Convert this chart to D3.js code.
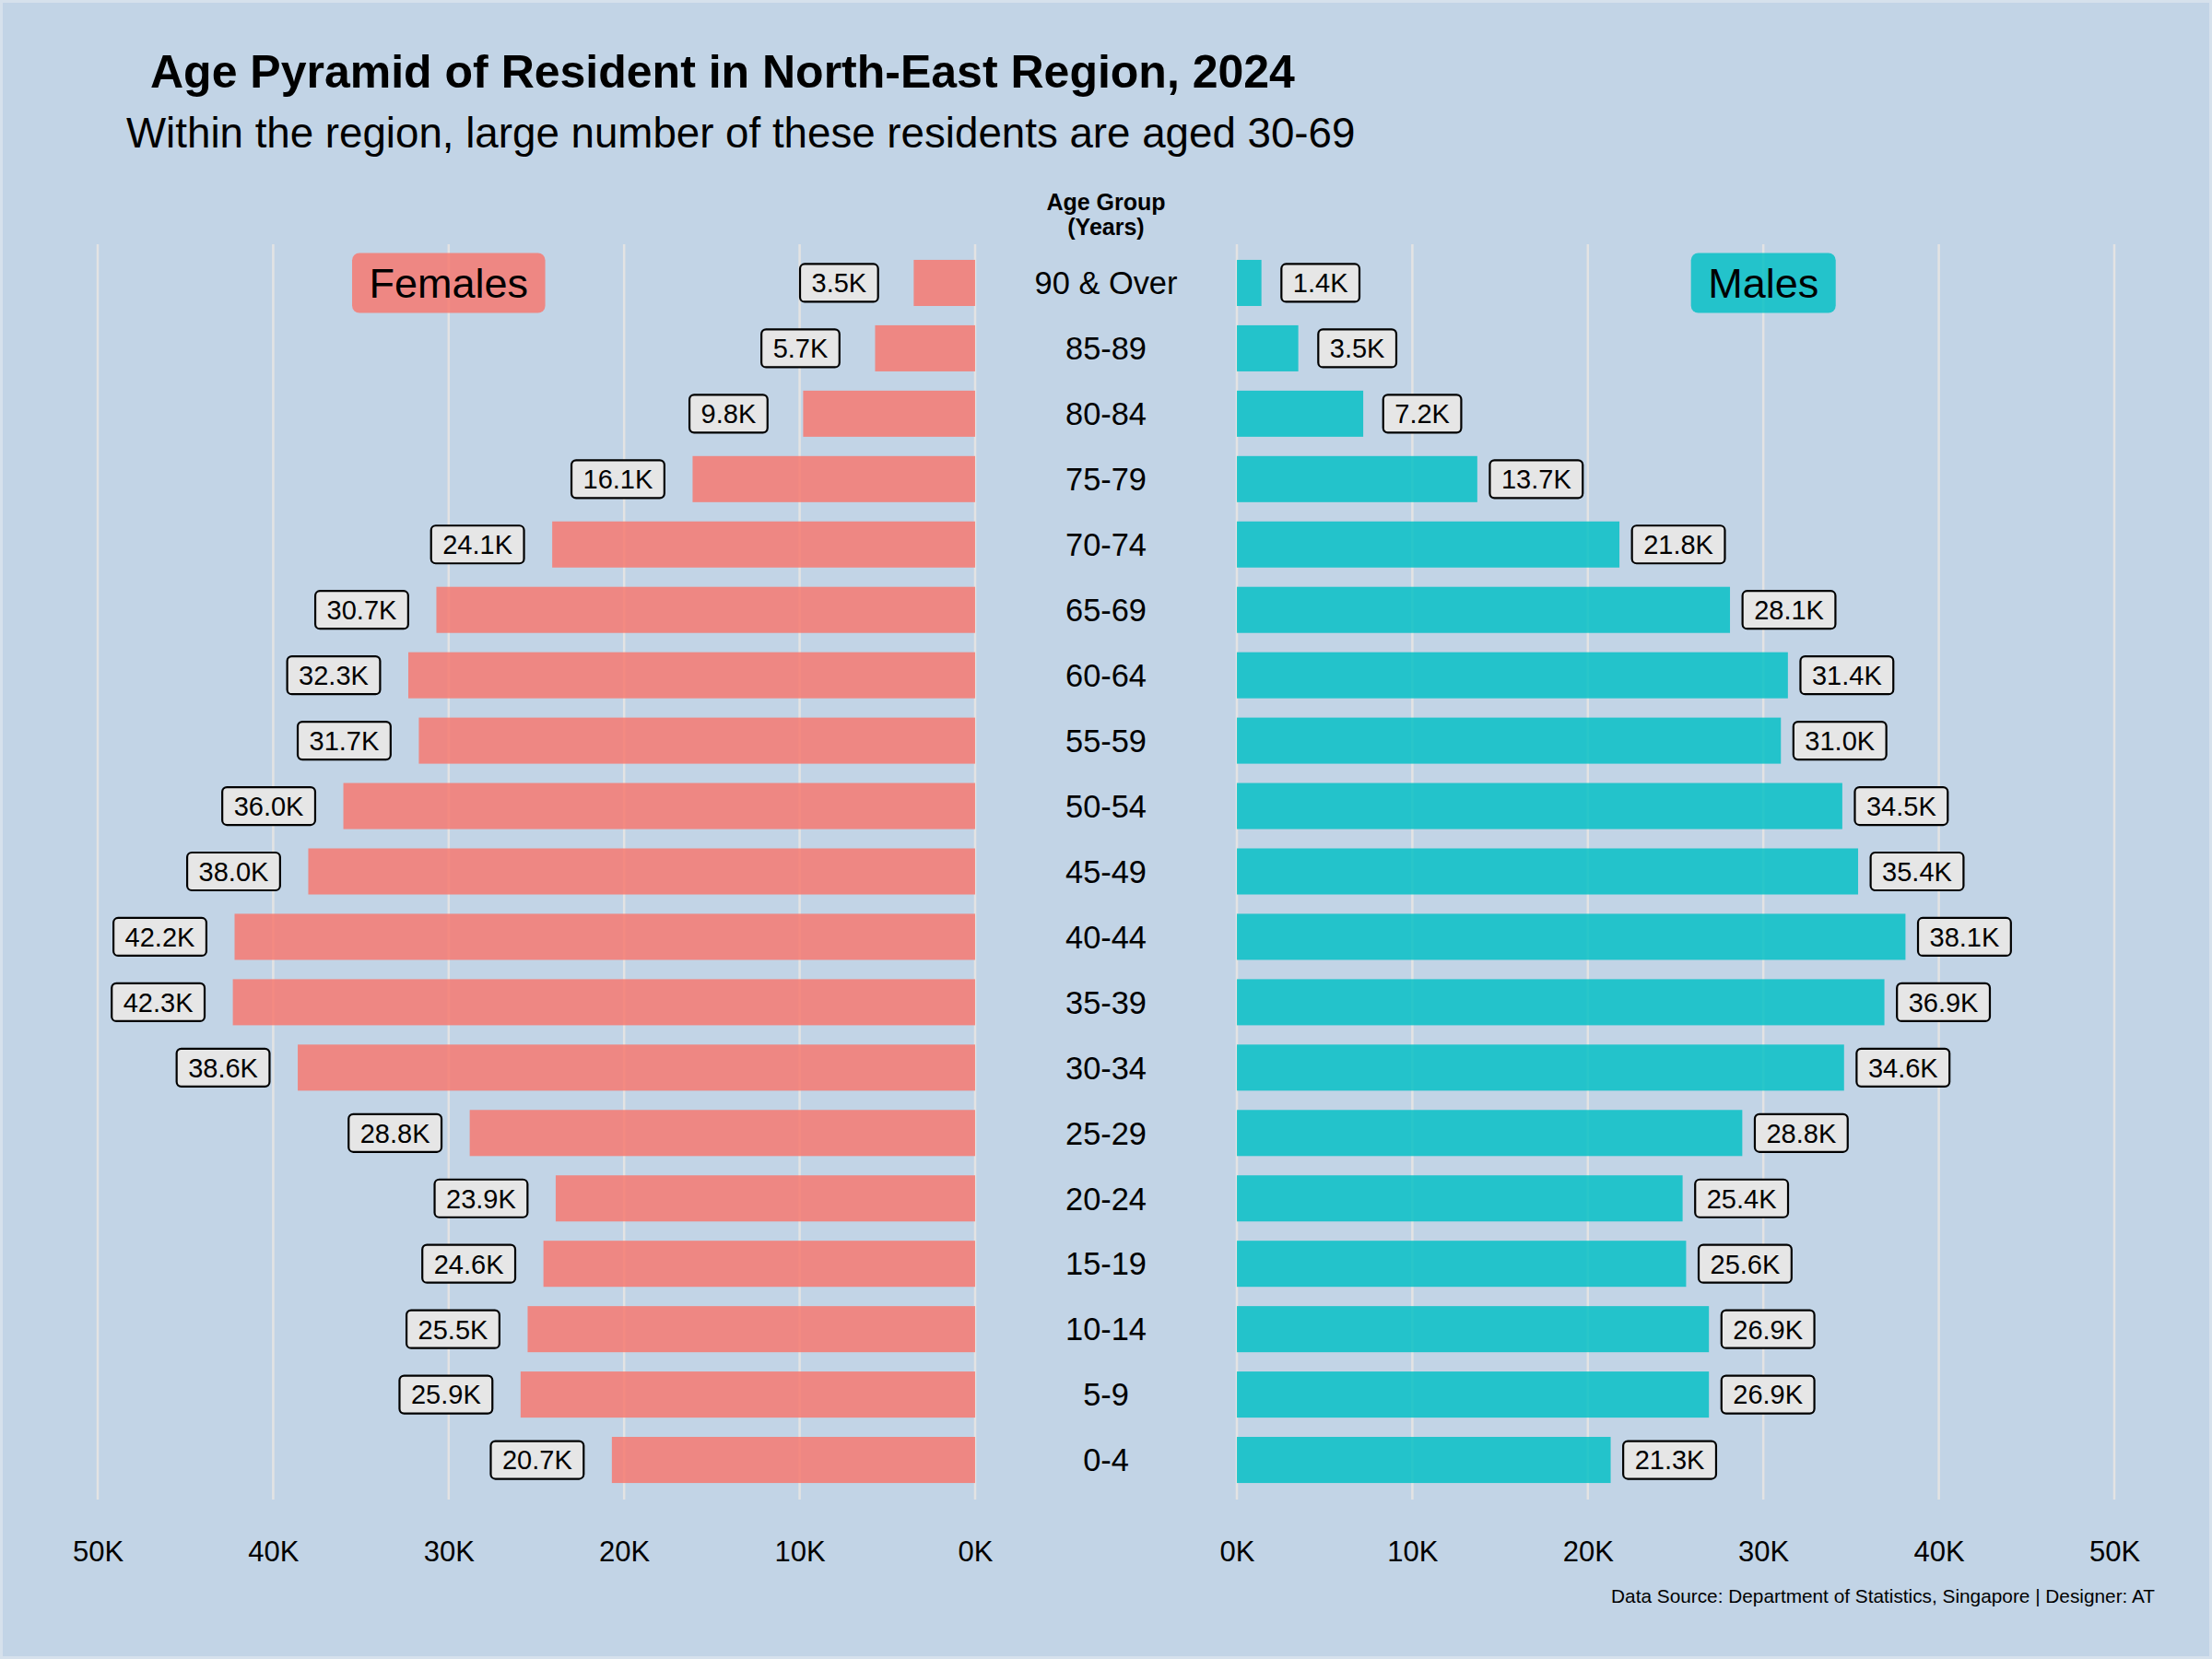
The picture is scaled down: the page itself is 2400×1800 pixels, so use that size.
<!DOCTYPE html>
<html>
<head>
<meta charset="utf-8">
<script src="https://cdn.jsdelivr.net/npm/d3@7"></script>
<style>
  html, body { margin: 0; padding: 0; background: #C2D4E6; }
  svg { display: block; }
  text { font-family: "Liberation Sans", Arial, Helvetica, sans-serif; }
</style>
</head>
<body>
<script>
// ---- Data ----
const ageGroups = ["90 & Over","85-89","80-84","75-79","70-74","65-69","60-64","55-59","50-54",
  "45-49","40-44","35-39","30-34","25-29","20-24","15-19","10-14","5-9","0-4"];
const females = [3500,5700,9800,16100,24100,30700,32300,31700,36000,38000,42200,42300,38600,28800,23900,24600,25500,25900,20700];
const males   = [1400,3500,7200,13700,21800,28100,31400,31000,34500,35400,38100,36900,34600,28800,25400,25600,26900,26900,21300];
const tickValues = [0,10000,20000,30000,40000,50000];
const seriesNames = ["Females","Males"];
const titleText = "Age Pyramid of Resident in North-East Region, 2024";
const subtitleText = "Within the region, large number of these residents are aged 30-69";
const captionText = "Data Source: Department of Statistics, Singapore | Designer: AT";

// ---- Layout ----
const W = 2400, H = 1800;
const bg = "#C2D4E6";
const femaleColor = "#F8766D", maleColor = "#00BFC4", barOpacity = 0.82;

const svg = d3.select("body").append("svg").attr("width", W).attr("height", H);
svg.append("rect").attr("x",1.5).attr("y",1.5).attr("width",W-3).attr("height",H-3)
  .attr("fill", bg).attr("stroke", "#D6E1EC").attr("stroke-width", 3);

const xL = d3.scaleLinear().domain([0, 50000]).range([1058, 106]);
const xR = d3.scaleLinear().domain([0, 50000]).range([1342, 2294]);
const y = d3.scaleBand().domain(ageGroups).range([271.5, 1619.5]).paddingInner(0.295).paddingOuter(0.1475);
const gridTop = 265, gridBottom = 1627;
const centerX = 1200;

// gridlines
const grid = svg.append("g");
[xL, xR].forEach(sc => {
  grid.selectAll(null).data(tickValues).enter().append("line")
    .attr("x1", d => sc(d)).attr("x2", d => sc(d))
    .attr("y1", gridTop).attr("y2", gridBottom)
    .attr("stroke", "#E3E3E3").attr("stroke-width", 2.5);
});

// bars
const rows = ageGroups.map((a, i) => ({age: a, f: females[i], m: males[i]}));
svg.append("g").selectAll("rect").data(rows).enter().append("rect")
  .attr("x", d => xL(d.f)).attr("width", d => xL(0) - xL(d.f))
  .attr("y", d => y(d.age)).attr("height", y.bandwidth())
  .attr("fill", femaleColor).attr("fill-opacity", barOpacity);
svg.append("g").selectAll("rect").data(rows).enter().append("rect")
  .attr("x", xR(0)).attr("width", d => xR(d.m) - xR(0))
  .attr("y", d => y(d.age)).attr("height", y.bandwidth())
  .attr("fill", maleColor).attr("fill-opacity", barOpacity);

// value labels
const fmtK = v => (v / 1000).toFixed(1) + "K";
function addLabel(g, cx, cy, txt) {
  const fs = 29;
  const t = g.append("text").attr("x", cx).attr("y", cy + fs * 0.716 / 2)
    .attr("text-anchor", "middle").attr("font-size", fs).attr("fill", "#000").text(txt);
  const w = t.node().getComputedTextLength() + 25;
  const h = 41;
  g.insert("rect", "text").attr("x", cx - w / 2).attr("y", cy - h / 2)
    .attr("width", w).attr("height", h).attr("rx", 5).attr("ry", 5)
    .attr("fill", "#E6E6E6").attr("stroke", "#000").attr("stroke-width", 2.2);
}
rows.forEach(d => {
  const cy = y(d.age) + y.bandwidth() / 2;
  addLabel(svg.append("g"), xL(d.f) - 81, cy, fmtK(d.f));
  addLabel(svg.append("g"), xR(d.m) + 64, cy, fmtK(d.m));
});

// age labels
const ageFs = 34.4;
svg.append("g").selectAll("text").data(ageGroups).enter().append("text")
  .attr("x", centerX).attr("y", d => y(d) + y.bandwidth() / 2 + ageFs * 0.716 / 2)
  .attr("text-anchor", "middle").attr("font-size", ageFs).attr("fill", "#000").text(d => d);

// header
svg.append("text").attr("x", centerX).attr("y", 228).attr("text-anchor", "middle")
  .attr("font-size", 25).attr("font-weight", "bold").text("Age Group");
svg.append("text").attr("x", centerX).attr("y", 255).attr("text-anchor", "middle")
  .attr("font-size", 25).attr("font-weight", "bold").text("(Years)");

// series legend boxes
function seriesBox(cx, cy, txt, color) {
  const g = svg.append("g");
  const fs = 45;
  const t = g.append("text").attr("x", cx).attr("y", cy + fs * 0.716 / 2)
    .attr("text-anchor", "middle").attr("font-size", fs).attr("fill", "#000").text(txt);
  const w = t.node().getComputedTextLength() + 37, h = 65;
  g.insert("rect", "text").attr("x", cx - w / 2).attr("y", cy - h / 2)
    .attr("width", w).attr("height", h).attr("rx", 8).attr("ry", 8)
    .attr("fill", color).attr("fill-opacity", barOpacity);
}
const topCenter = y(ageGroups[0]) + y.bandwidth() / 2;
seriesBox(xL(30000), topCenter, seriesNames[0], femaleColor);
seriesBox(xR(30000), topCenter, seriesNames[1], maleColor);

// axes
const fmtTick = d => (d / 1000) + "K";
[xL, xR].forEach(sc => {
  const ax = svg.append("g").attr("transform", "translate(0,1657)")
    .call(d3.axisBottom(sc).tickValues(tickValues).tickFormat(fmtTick).tickSize(0));
  ax.select(".domain").remove();
  ax.selectAll("text").attr("font-size", 31).attr("fill", "#000")
    .attr("font-family", "Liberation Sans, Arial, sans-serif").attr("dy", "1.1em");
});

// titles
svg.append("text").attr("x", 163).attr("y", 95).attr("font-size", 50).attr("font-weight", "bold")
  .attr("fill", "#000").text(titleText);
svg.append("text").attr("x", 137).attr("y", 160).attr("font-size", 45.7)
  .attr("fill", "#000").text(subtitleText);
svg.append("text").attr("x", 2338).attr("y", 1739).attr("text-anchor", "end").attr("font-size", 20.8)
  .attr("fill", "#000").text(captionText);
</script>
</body>
</html>
